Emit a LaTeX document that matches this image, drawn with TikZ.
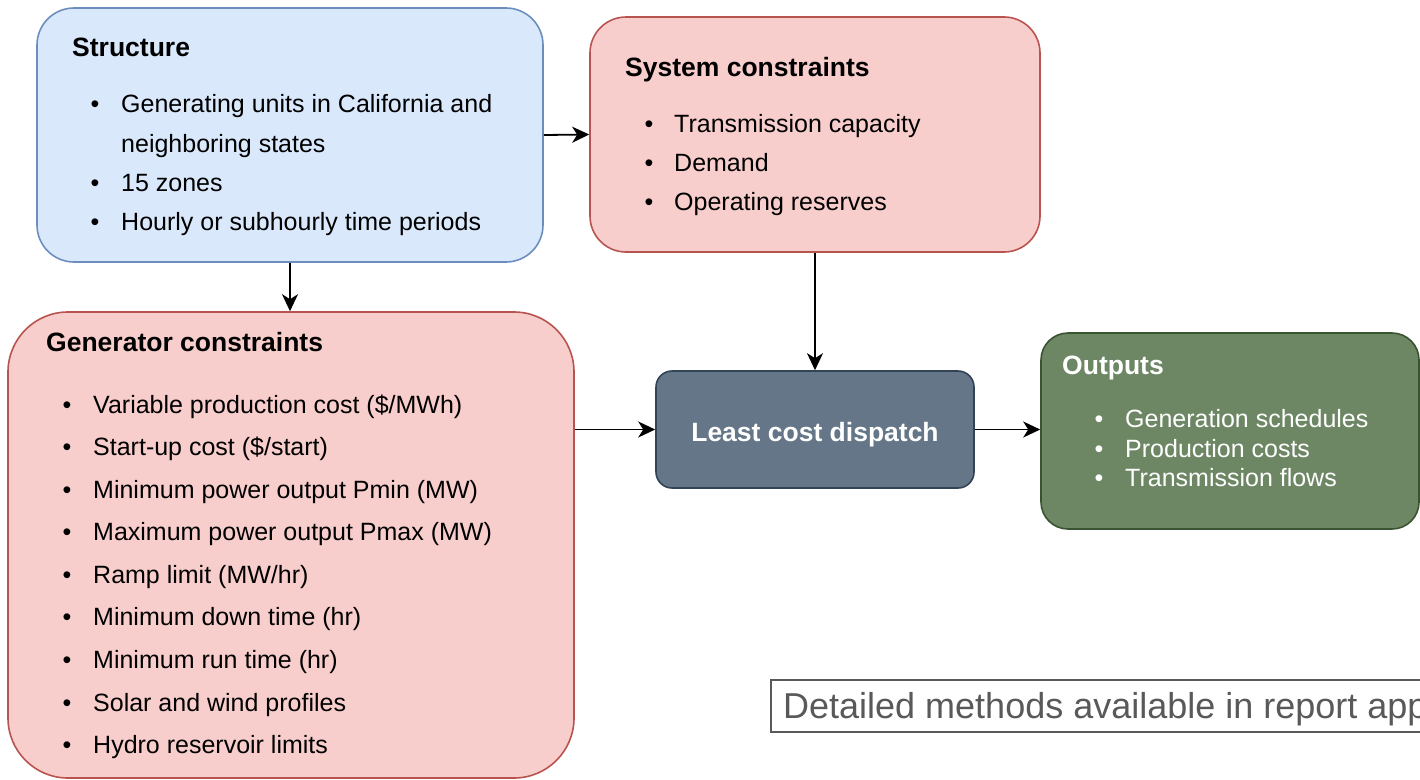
\documentclass[tikz,border=0pt]{standalone}
\usepackage{fontspec}
\setmainfont{Liberation Sans}
\usetikzlibrary{arrows.meta}
\definecolor{stfill}{HTML}{DAE8FC}
\definecolor{stdraw}{HTML}{6C8EBF}
\definecolor{rdfill}{HTML}{F8CECC}
\definecolor{rddraw}{HTML}{B85450}
\definecolor{lcfill}{HTML}{647687}
\definecolor{lcdraw}{HTML}{314354}
\definecolor{oufill}{HTML}{6D8764}
\definecolor{oudraw}{HTML}{3A5431}
\definecolor{notegray}{HTML}{595959}
\begin{document}
\begin{tikzpicture}[x=1pt,y=-1pt,
  panel/.style={draw, line width=1.6pt, rounded corners=#1, inner sep=0pt},
  ttl/.style={anchor=base west, inner sep=0pt, font=\fontsize{26.5}{30}\selectfont\bfseries},
  itm/.style={anchor=base west, inner sep=0pt, font=\fontsize{25}{30}\selectfont},
  bul/.style={anchor=base, inner sep=0pt, font=\fontsize{25}{30}\selectfont},
  conn/.style={line width=1.8pt, -{Stealth[length=17pt,width=16pt,inset=5pt]}}]
\useasboundingbox (0,0) rectangle (1420,779);
\clip (0,0) rectangle (1420,779);

% boxes
\node[panel=37pt, fill=stfill, draw=stdraw, minimum width=506pt, minimum height=254pt] (struct) at (290,135) {};
\node[panel=36pt, fill=rdfill, draw=rddraw, minimum width=450pt, minimum height=235pt] (sys) at (815,134.5) {};
\node[panel=60pt, fill=rdfill, draw=rddraw, minimum width=566pt, minimum height=466pt] (gen) at (291,545) {};
\node[panel=16pt, fill=lcfill, draw=lcdraw, minimum width=318pt, minimum height=117pt] (lcd) at (815,429.5) {};
\node[panel=27pt, fill=oufill, draw=oudraw, minimum width=378pt, minimum height=196pt] (out) at (1230,431) {};
\node[draw=notegray, line width=1.3pt, minimum width=700pt, minimum height=52pt, inner sep=0pt] (note) at (1121,706) {};

% Structure text
\node[ttl] (st0) at (72,56) {Structure};
\foreach \yy/\tx [count=\i] in {112/{Generating units in California and}, 191/{15 zones}, 230/{Hourly or subhourly time periods}}{
  \node[bul] (stb\i) at (95,\yy) {\textbullet};
  \node[itm] (sti\i) at (121,\yy) {\tx};
}
\node[itm] (stc) at (121,152) {neighboring states};

% System constraints text
\node[ttl] (sy0) at (625,76) {System constraints};
\foreach \yy/\tx [count=\i] in {132/{Transmission capacity}, 171/{Demand}, 210/{Operating reserves}}{
  \node[bul] (syb\i) at (649,\yy) {\textbullet};
  \node[itm] (syi\i) at (674,\yy) {\tx};
}

% Generator constraints text
\node[ttl] (ge0) at (46,351) {Generator constraints};
\foreach \yy/\tx [count=\i] in {413/{Variable production cost (\$/MWh)}, 455/{Start-up cost (\$/start)}, 498/{Minimum power output Pmin (MW)}, 540/{Maximum power output Pmax (MW)}, 583/{Ramp limit (MW/hr)}, 625/{Minimum down time (hr)}, 668/{Minimum run time (hr)}, 711/{Solar and wind profiles}, 753/{Hydro reservoir limits}}{
  \node[bul] (geb\i) at (67,\yy) {\textbullet};
  \node[itm] (gei\i) at (93,\yy) {\tx};
}

% Least cost dispatch
\node[anchor=base, inner sep=0pt, text=white, font=\fontsize{26.5}{30}\selectfont\bfseries] (lcdt) at (815,441) {Least cost dispatch};

% Outputs text
\node[ttl, text=white] (ou0) at (1062,374) {Outputs};
\foreach \yy/\tx [count=\i] in {427/{Generation schedules}, 457/{Production costs}, 486/{Transmission flows}}{
  \node[bul, text=white] (oub\i) at (1099,\yy) {\textbullet};
  \node[itm, text=white] (oui\i) at (1125,\yy) {\tx};
}

% note
\node[anchor=base west, inner sep=0pt, text=notegray, font=\fontsize{36}{40}\selectfont] (notet) at (783,718) {Detailed methods available in report app};

% connectors
\draw[conn] (struct.east) -- (sys.west);
\draw[conn] (struct.south) -- (struct.south |- gen.north);
\draw[conn] (sys.south) -- (lcd.north);
\draw[conn] (gen.east |- lcd.west) -- (lcd.west);
\draw[conn] (lcd.east) -- (lcd.east -| out.west);
\end{tikzpicture}
\end{document}
